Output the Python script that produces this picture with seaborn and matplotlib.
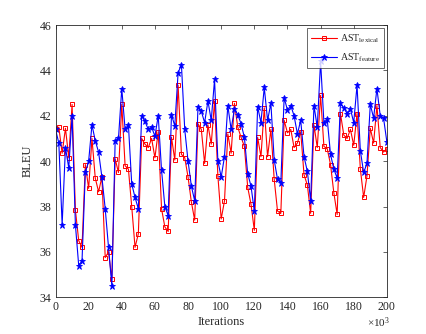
import numpy as np
import pandas as pd
import seaborn as sns
import matplotlib
matplotlib.use("Agg")
import matplotlib.pyplot as plt

# iterations (x10^3), every 2k steps
iterations = list(range(0, 201, 2))

bleu_lexical = [
    41.4, 41.5, 40.35, 41.45, 40.15, 42.5, 37.85, 36.5, 36.2, 39.85,
    38.8, 41.0, 39.25, 38.65, 39.3, 35.75, 36.0, 34.8, 40.1, 39.5,
    42.5, 39.8, 39.65, 38.0, 36.2, 36.8, 41.0, 40.75, 40.6, 41.0,
    40.15, 41.3, 37.9, 37.1, 36.9, 41.05, 40.05, 43.35, 40.3, 40.15,
    39.3, 38.2, 37.4, 41.65, 41.4, 39.9, 41.6, 40.75, 42.65, 39.35,
    37.45, 38.25, 41.2, 40.35, 42.55, 41.5, 41.05, 40.65, 38.85, 38.1,
    36.95, 41.05, 40.2, 42.35, 40.2, 41.4, 39.2, 37.8, 37.7, 41.8,
    41.25, 41.4, 40.6, 40.8, 41.3, 39.4, 38.95, 37.7, 41.6, 40.6,
    42.9, 40.65, 40.55, 39.85, 38.6, 37.65, 42.1, 41.15, 41.0, 41.4,
    40.7, 42.1, 39.65, 38.4, 39.35, 41.45, 40.8, 42.45, 40.6, 40.4,
    40.55,
]

bleu_feature = [
    41.4, 40.8, 37.2, 40.6, 39.7, 42.0, 37.2, 35.4, 35.6, 39.5,
    40.0, 41.6, 40.9, 40.4, 39.3, 37.9, 36.2, 34.5, 40.9, 41.0,
    43.2, 41.4, 41.6, 39.0, 38.4, 37.9, 42.0, 41.75, 41.4, 41.5,
    41.1, 42.0, 39.6, 38.0, 37.6, 42.05, 41.55, 43.9, 44.25, 41.4,
    40.0, 38.9, 38.25, 42.4, 42.2, 41.7, 42.65, 41.8, 43.6, 40.0,
    39.3, 40.2, 42.45, 41.4, 42.3, 42.05, 41.65, 41.05, 39.45, 38.9,
    37.8, 42.4, 41.7, 43.25, 41.8, 42.55, 40.05, 39.2, 39.05, 42.8,
    42.25, 42.45, 42.0, 41.2, 41.8, 40.2, 39.55, 38.25, 42.45, 41.5,
    44.4, 41.7, 41.85, 40.3, 39.65, 39.25, 42.55, 42.35, 42.1, 42.3,
    41.7, 43.35, 40.45, 39.5, 39.9, 42.5, 41.9, 43.2, 42.0, 41.9,
    40.85,
]

x_ticks = list(range(0, 201, 20))
y_ticks = list(range(34, 47, 2))

sns.set_style("white")
plt.rcParams["font.family"] = ["Liberation Serif", "DejaVu Serif"]
plt.rcParams["mathtext.fontset"] = "custom"
plt.rcParams["mathtext.rm"] = "Liberation Serif"
plt.rcParams["mathtext.it"] = "Liberation Serif:italic"

df = pd.DataFrame({"it": iterations, "lex": bleu_lexical, "feat": bleu_feature})

fig = plt.figure(figsize=(4.27, 3.34), dpi=100)
ax = fig.add_axes([0.13, 0.11, 0.776, 0.815])

sns.lineplot(data=df, x="it", y="lex", ax=ax, color="red", lw=0.8,
             marker="s", markersize=3.4, markerfacecolor="none",
             markeredgecolor="red", markeredgewidth=0.7,
             label=r"AST$_{\mathrm{lexical}}$")
sns.lineplot(data=df, x="it", y="feat", ax=ax, color="blue", lw=0.8,
             marker="*", markersize=5, markeredgecolor="blue",
             markeredgewidth=0.6,
             label=r"AST$_{\mathrm{feature}}$")

ax.set_xlim(0, 200)
ax.set_ylim(34, 46)
ax.set_xticks(x_ticks)
ax.set_yticks(y_ticks)
ax.tick_params(direction="in", length=3, width=0.5, labelsize=8.5,
               top=True, right=True, colors="#262626", pad=3)
for s in ax.spines.values():
    s.set_linewidth(0.6)
    s.set_color("#262626")
ax.set_xlabel("Iterations", fontsize=9, labelpad=2)
ax.set_ylabel("BLEU", fontsize=9, labelpad=4)

leg = ax.legend(loc="upper right", fontsize=7.2, frameon=True, fancybox=False,
                edgecolor="#262626", handlelength=2.6, handletextpad=0.3,
                borderpad=0.4, labelspacing=0.7, borderaxespad=0.3)
leg.get_frame().set_linewidth(0.6)

fig.text(0.913, 0.033, r"$\times 10^3$", ha="right", va="center", fontsize=8,
         family="DejaVu Sans", color="#262626")

fig.savefig("out.png", dpi=100, facecolor="white")
